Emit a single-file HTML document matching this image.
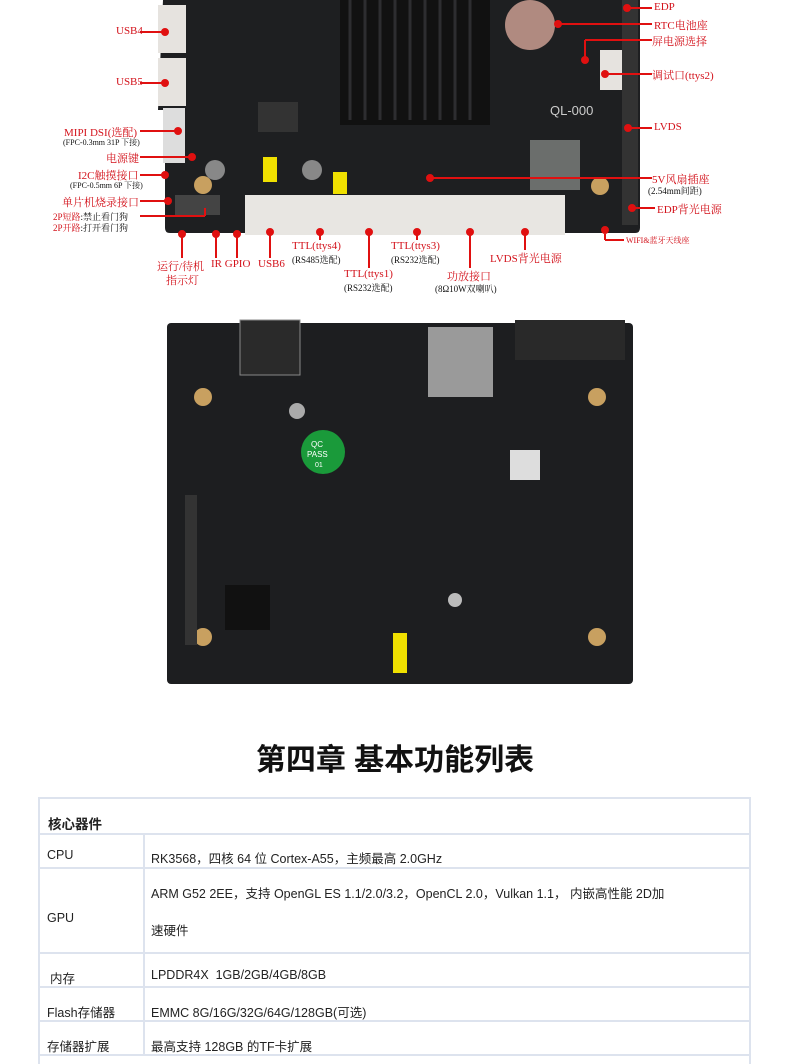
<!DOCTYPE html>
<html><head><meta charset="utf-8">
<style>
body{margin:0;background:#fff;width:790px;height:1064px;position:relative;overflow:hidden;font-family:"Liberation Serif","Noto Serif CJK SC",serif}
.a{position:absolute}
.r{color:#d3121b;font-size:11px;white-space:nowrap}
.k{color:#111;font-size:8px;white-space:nowrap}
.t{position:absolute;font-family:"Liberation Sans","Noto Sans CJK SC",sans-serif;font-size:12.5px;color:#222;white-space:nowrap}
.hl{position:absolute;left:38px;width:712px;height:2px;background:#dde3ee}
.vl{position:absolute;width:2px;background:#dde3ee}
</style></head><body>
<svg class="a" style="left:0;top:0" width="790" height="300">
<path d="M163 0 H640 V228 Q640 233 635 233 H170 Q165 233 165 228 V110 H158 Z" fill="#1e1f21"/>
<rect x="340" y="0" width="150" height="125" fill="#111"/>
<g stroke="#2d2d30" stroke-width="3"><line x1="350" y1="0" x2="350" y2="120"/><line x1="365" y1="0" x2="365" y2="120"/><line x1="380" y1="0" x2="380" y2="120"/><line x1="395" y1="0" x2="395" y2="120"/><line x1="410" y1="0" x2="410" y2="120"/><line x1="425" y1="0" x2="425" y2="120"/><line x1="440" y1="0" x2="440" y2="120"/><line x1="455" y1="0" x2="455" y2="120"/><line x1="470" y1="0" x2="470" y2="120"/></g>
<circle cx="530" cy="25" r="25" fill="#b08a80"/>
<rect x="158" y="5" width="28" height="48" fill="#e6e3df"/><rect x="158" y="58" width="28" height="48" fill="#e6e3df"/>
<rect x="163" y="108" width="22" height="55" fill="#ddd"/>
<rect x="245" y="195" width="320" height="40" fill="#e8e6e2"/>
<rect x="600" y="50" width="25" height="40" fill="#e6e3df"/>
<rect x="622" y="0" width="16" height="225" fill="#333"/>
<rect x="175" y="195" width="45" height="20" fill="#444"/>
<rect x="263" y="157" width="14" height="25" fill="#f0e000"/><rect x="333" y="172" width="14" height="22" fill="#f0e000"/>
<rect x="530" y="140" width="50" height="50" fill="#6b6e6c"/>
<rect x="258" y="102" width="40" height="30" fill="#333"/>
<circle cx="203" cy="185" r="9" fill="#c8a060"/><circle cx="600" cy="186" r="9" fill="#c8a060"/>
<circle cx="215" cy="170" r="10" fill="#888"/><circle cx="312" cy="170" r="10" fill="#888"/>
<text x="550" y="115" fill="#ccc" font-family="Liberation Sans" font-size="13">QL-000</text>
<g stroke="#e01010" stroke-width="2" fill="#e01010">
<line x1="140" y1="32" x2="165" y2="32"/><circle cx="165" cy="32" r="3"/>
<line x1="140" y1="83" x2="165" y2="83"/><circle cx="165" cy="83" r="3"/>
<line x1="140" y1="131" x2="178" y2="131"/><circle cx="178" cy="131" r="3"/>
<line x1="140" y1="157" x2="192" y2="157"/><circle cx="192" cy="157" r="3"/>
<line x1="140" y1="175" x2="165" y2="175"/><circle cx="165" cy="175" r="3"/>
<line x1="140" y1="201" x2="168" y2="201"/><circle cx="168" cy="201" r="3"/>
<line x1="140" y1="216" x2="205" y2="216"/><line x1="205" y1="216" x2="205" y2="208"/>
<line x1="182" y1="234" x2="182" y2="258"/><circle cx="182" cy="234" r="3"/>
<line x1="216" y1="234" x2="216" y2="258"/><circle cx="216" cy="234" r="3"/>
<line x1="237" y1="234" x2="237" y2="258"/><circle cx="237" cy="234" r="3"/>
<line x1="270" y1="232" x2="270" y2="258"/><circle cx="270" cy="232" r="3"/>
<line x1="320" y1="232" x2="320" y2="240"/><circle cx="320" cy="232" r="3"/>
<line x1="369" y1="232" x2="369" y2="268"/><circle cx="369" cy="232" r="3"/>
<line x1="417" y1="232" x2="417" y2="240"/><circle cx="417" cy="232" r="3"/>
<line x1="470" y1="232" x2="470" y2="268"/><circle cx="470" cy="232" r="3"/>
<line x1="525" y1="232" x2="525" y2="250"/><circle cx="525" cy="232" r="3"/>
<line x1="627" y1="8" x2="652" y2="8"/><circle cx="627" cy="8" r="3"/>
<line x1="558" y1="24" x2="652" y2="24"/><circle cx="558" cy="24" r="3"/>
<line x1="585" y1="40" x2="652" y2="40"/><line x1="585" y1="40" x2="585" y2="60"/><circle cx="585" cy="60" r="3"/>
<line x1="605" y1="74" x2="652" y2="74"/><circle cx="605" cy="74" r="3"/>
<line x1="628" y1="128" x2="652" y2="128"/><circle cx="628" cy="128" r="3"/>
<line x1="430" y1="178" x2="652" y2="178"/><circle cx="430" cy="178" r="3"/>
<line x1="632" y1="208" x2="655" y2="208"/><circle cx="632" cy="208" r="3"/>
<line x1="605" y1="234" x2="605" y2="240"/><line x1="605" y1="240" x2="624" y2="240"/><circle cx="605" cy="230" r="3"/>
</g></svg>
<div class="a r" style="left:116px;top:25px">USB4</div>
<div class="a r" style="left:116px;top:76px">USB5</div>
<div class="a r" style="left:64px;top:124px">MIPI DSI(选配)</div>
<div class="a k" style="left:63px;top:137px">(FPC-0.3mm 31P 下接)</div>
<div class="a r" style="left:106px;top:150px">电源键</div>
<div class="a r" style="left:78px;top:167px">I2C触摸接口</div>
<div class="a k" style="left:70px;top:180px">(FPC-0.5mm 6P 下接)</div>
<div class="a r" style="left:62px;top:194px">单片机烧录接口</div>
<div class="a k" style="left:53px;top:210px;font-size:9px"><span style="color:#d3121b">2P短路</span>:禁止看门狗</div>
<div class="a k" style="left:53px;top:221px;font-size:9px"><span style="color:#d3121b">2P开路</span>:打开看门狗</div>
<div class="a r" style="left:157px;top:258px">运行/待机</div>
<div class="a r" style="left:166px;top:272px">指示灯</div>
<div class="a r" style="left:211px;top:258px">IR GPIO</div>
<div class="a r" style="left:258px;top:258px">USB6</div>
<div class="a r" style="left:292px;top:240px">TTL(ttys4)</div>
<div class="a k" style="left:292px;top:253px;font-size:9px">(RS485选配)</div>
<div class="a r" style="left:344px;top:268px">TTL(ttys1)</div>
<div class="a k" style="left:344px;top:281px;font-size:9px">(RS232选配)</div>
<div class="a r" style="left:391px;top:240px">TTL(ttys3)</div>
<div class="a k" style="left:391px;top:253px;font-size:9px">(RS232选配)</div>
<div class="a r" style="left:447px;top:268px">功放接口</div>
<div class="a k" style="left:435px;top:282px;font-size:9px">(8Ω10W双喇叭)</div>
<div class="a r" style="left:490px;top:250px">LVDS背光电源</div>
<div class="a r" style="left:654px;top:1px">EDP</div>
<div class="a r" style="left:654px;top:17px">RTC电池座</div>
<div class="a r" style="left:652px;top:33px">屏电源选择</div>
<div class="a r" style="left:652px;top:67px">调试口(ttys2)</div>
<div class="a r" style="left:654px;top:121px">LVDS</div>
<div class="a r" style="left:652px;top:171px">5V风扇插座</div>
<div class="a k" style="left:648px;top:184px;font-size:9px">(2.54mm间距)</div>
<div class="a r" style="left:657px;top:201px">EDP背光电源</div>
<div class="a r" style="left:626px;top:235px;font-size:8px">WIFI&amp;蓝牙天线座</div>
<svg class="a" style="left:160px;top:315px" width="480" height="375">
<rect x="7" y="8" width="466" height="361" rx="4" fill="#1d1e20"/>
<rect x="80" y="5" width="60" height="55" fill="#2a2a2a" stroke="#888"/>
<rect x="268" y="12" width="65" height="70" fill="#9a9a9a"/>
<rect x="355" y="5" width="110" height="40" fill="#292929"/>
<circle cx="43" cy="82" r="9" fill="#c8a060"/><circle cx="437" cy="82" r="9" fill="#c8a060"/>
<circle cx="43" cy="322" r="9" fill="#c8a060"/><circle cx="437" cy="322" r="9" fill="#c8a060"/>
<circle cx="137" cy="96" r="8" fill="#aaa"/><circle cx="295" cy="285" r="7" fill="#bbb"/>
<circle cx="163" cy="137" r="22" fill="#1a9a3a"/>
<text x="151" y="132" fill="#fff" font-size="8" font-family="Liberation Sans">QC</text><text x="147" y="142" fill="#fff" font-size="8" font-family="Liberation Sans">PASS</text><text x="155" y="152" fill="#fff" font-size="7" font-family="Liberation Sans">01</text>
<rect x="350" y="135" width="30" height="30" fill="#ddd"/>
<rect x="65" y="270" width="45" height="45" fill="#111"/>
<rect x="233" y="318" width="14" height="40" fill="#f0e000"/>
<rect x="25" y="180" width="12" height="150" fill="#333"/>
</svg>
<div class="a" style="left:0;width:790px;top:735px;text-align:center;font-family:'Liberation Sans','Noto Sans CJK SC',sans-serif;font-size:30px;font-weight:bold;color:#111">第四章 基本功能列表</div>
<!-- table -->
<div class="hl" style="top:797px"></div>
<div class="hl" style="top:833px"></div>
<div class="hl" style="top:867px"></div>
<div class="hl" style="top:952px"></div>
<div class="hl" style="top:986px"></div>
<div class="hl" style="top:1020px"></div>
<div class="hl" style="top:1054px"></div>
<div class="vl" style="left:38px;top:797px;height:267px"></div>
<div class="vl" style="left:749px;top:797px;height:267px"></div>
<div class="vl" style="left:143px;top:833px;height:222px"></div>
<div class="t" style="left:48px;top:813px;font-weight:bold;font-size:13.5px">核心器件</div>
<div class="t" style="left:47px;top:848px">CPU</div>
<div class="t" style="left:151px;top:848px">RK3568，四核 64 位 Cortex-A55，主频最高 2.0GHz</div>
<div class="t" style="left:47px;top:911px">GPU</div>
<div class="t" style="left:151px;top:883px">ARM G52 2EE，支持 OpenGL ES 1.1/2.0/3.2，OpenCL 2.0，Vulkan 1.1， 内嵌高性能 2D加</div>
<div class="t" style="left:151px;top:920px">速硬件</div>
<div class="t" style="left:50px;top:968px">内存</div>
<div class="t" style="left:151px;top:968px">LPDDR4X &nbsp;1GB/2GB/4GB/8GB</div>
<div class="t" style="left:47px;top:1002px">Flash存储器</div>
<div class="t" style="left:151px;top:1002px">EMMC 8G/16G/32G/64G/128GB(可选)</div>
<div class="t" style="left:47px;top:1036px">存储器扩展</div>
<div class="t" style="left:151px;top:1036px">最高支持 128GB 的TF卡扩展</div>
</body></html>
